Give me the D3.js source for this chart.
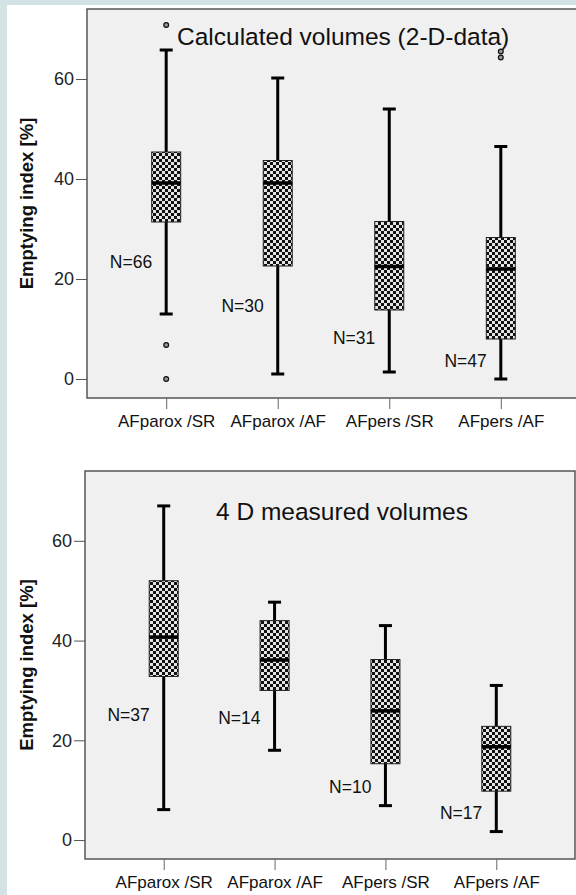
<!DOCTYPE html>
<html>
<head>
<meta charset="utf-8">
<script src="https://cdn.jsdelivr.net/npm/d3@7"></script>
<style>
  html, body { margin: 0; padding: 0; background: #d3e2e4; }
  svg { display: block; font-family: "Liberation Sans", Arial, sans-serif; }
</style>
</head>
<body>
<div id="chart"></div>
<script>
/* data */
var categories = ["AFparox /SR", "AFparox /AF", "AFpers /SR", "AFpers /AF"]
var yTicks = [0, 20, 40, 60]

// top panel: calculated volumes (2-D data)
var calcTitle = "Calculated volumes (2-D-data)"
var calcLow    = [13.0, 1.0, 1.4, 0.0]
var calcQ1     = [31.4, 22.6, 13.8, 8.0]
var calcMedian = [39.2, 39.2, 22.5, 22.0]
var calcQ3     = [45.4, 43.7, 31.5, 28.3]
var calcHigh   = [65.8, 60.2, 54.0, 46.5]
var calcOutliers = [[70.8, 6.8, 0.0], [], [], [65.5, 64.3]]
var calcN      = [66, 30, 31, 47]
var calcNAt    = [23.4, 14.6, 8.2, 3.6]   // value where the N label sits

// bottom panel: 4 D measured volumes
var measTitle = "4 D measured volumes"
var measLow    = [6.1, 18.0, 6.9, 1.7]
var measQ1     = [32.8, 30.0, 15.3, 9.8]
var measMedian = [40.7, 36.1, 25.9, 18.7]
var measQ3     = [52.0, 44.0, 36.2, 22.8]
var measHigh   = [67.0, 47.7, 43.0, 31.0]
var measOutliers = [[], [], [], []]
var measN      = [37, 14, 10, 17]
var measNAt    = [25.0, 24.4, 10.6, 5.4]

var width = 576, height = 895

var svg = d3.select("#chart").append("svg")
  .attr("width", width)
  .attr("height", height)

// checker fill for the boxes
var defs = svg.append("defs")
var pat = defs.append("pattern")
  .attr("id", "checker")
  .attr("patternUnits", "userSpaceOnUse")
  .attr("width", 6).attr("height", 6)
pat.append("rect").attr("width", 6).attr("height", 6).attr("fill", "#e4e4e4")
pat.append("rect").attr("width", 3).attr("height", 3).attr("fill", "#111")
pat.append("rect").attr("x", 3).attr("y", 3).attr("width", 3).attr("height", 3).attr("fill", "#111")

// white page inside the blue-grey frame
svg.append("rect")
  .attr("x", 7).attr("y", 5)
  .attr("width", width - 7).attr("height", height - 5)
  .attr("fill", "#fff")

function drawPanel(opt) {
  var g = svg.append("g")

  var x = d3.scalePoint()
    .domain(categories)
    .range([opt.left, opt.right])
    .padding(0.71)

  var y = d3.scaleLinear()
    .domain([-3.8, 74])
    .range([opt.bottom, opt.top])

  g.append("rect")
    .attr("x", opt.left).attr("y", opt.top)
    .attr("width", opt.right - opt.left).attr("height", opt.bottom - opt.top)
    .attr("fill", "#f0f0f0")
    .attr("stroke", "#555")
    .attr("stroke-width", 1.5)

  // y axis
  var yAxis = g.append("g")
    .attr("transform", `translate(${opt.left},0)`)
    .call(d3.axisLeft(y).tickValues(yTicks).tickSize(11).tickPadding(2))
  yAxis.select(".domain").remove()
  yAxis.selectAll(".tick line").attr("stroke", "#555")
  yAxis.selectAll(".tick text")
    .attr("fill", "#222")
    .style("font-size", "18px")
    .style("font-family", '"Liberation Sans", Arial, sans-serif')

  // x axis
  var xAxis = g.append("g")
    .attr("transform", `translate(0,${opt.bottom})`)
    .call(d3.axisBottom(x).tickSize(11).tickPadding(6))
  xAxis.select(".domain").remove()
  xAxis.selectAll(".tick line").attr("stroke", "#666")
  xAxis.selectAll(".tick text")
    .attr("fill", "#111")
    .style("font-size", "17px")
    .style("font-family", '"Liberation Sans", Arial, sans-serif')

  // axis title
  g.append("text")
    .attr("transform", `translate(${opt.titleX},${(opt.top + opt.bottom) / 2}) rotate(-90)`)
    .attr("text-anchor", "middle")
    .attr("font-size", 18.5)
    .attr("font-weight", "bold")
    .attr("fill", "#111")
    .text("Emptying index [%]")

  // panel heading
  g.append("text")
    .attr("x", opt.headX).attr("y", opt.headY)
    .attr("font-size", 24.5)
    .attr("fill", "#111")
    .text(opt.title)

  var rows = categories.map((c, i) => ({
    cat: c,
    low: opt.low[i], q1: opt.q1[i], med: opt.median[i], q3: opt.q3[i], high: opt.high[i],
    out: opt.outliers[i], n: opt.n[i], nAt: opt.nAt[i]
  }))

  var boxW = 29, capW = 13

  var box = g.selectAll(".box")
    .data(rows)
    .enter().append("g")
    .attr("class", "box")

  // whisker stem
  box.append("line")
    .attr("x1", d => x(d.cat)).attr("x2", d => x(d.cat))
    .attr("y1", d => y(d.high)).attr("y2", d => y(d.low))
    .attr("stroke", "#000").attr("stroke-width", 3)

  // caps
  box.append("line")
    .attr("x1", d => x(d.cat) - capW / 2).attr("x2", d => x(d.cat) + capW / 2)
    .attr("y1", d => y(d.high)).attr("y2", d => y(d.high))
    .attr("stroke", "#000").attr("stroke-width", 3)
  box.append("line")
    .attr("x1", d => x(d.cat) - capW / 2).attr("x2", d => x(d.cat) + capW / 2)
    .attr("y1", d => y(d.low)).attr("y2", d => y(d.low))
    .attr("stroke", "#000").attr("stroke-width", 3)

  // box
  box.append("rect")
    .attr("x", d => x(d.cat) - boxW / 2)
    .attr("y", d => y(d.q3))
    .attr("width", boxW)
    .attr("height", d => y(d.q1) - y(d.q3))
    .attr("fill", "url(#checker)")
    .attr("stroke", "#222")
    .attr("stroke-width", 1)

  // median
  box.append("line")
    .attr("x1", d => x(d.cat) - boxW / 2).attr("x2", d => x(d.cat) + boxW / 2)
    .attr("y1", d => y(d.med)).attr("y2", d => y(d.med))
    .attr("stroke", "#000").attr("stroke-width", 3.5)

  // outliers
  box.selectAll(".out")
    .data(d => d.out.map(v => ({ cat: d.cat, v: v })))
    .enter().append("circle")
    .attr("cx", d => x(d.cat))
    .attr("cy", d => y(d.v))
    .attr("r", 2.4)
    .attr("fill", "#999")
    .attr("stroke", "#111")
    .attr("stroke-width", 1.2)

  // N labels
  box.append("text")
    .attr("x", d => x(d.cat) - 14)
    .attr("y", d => y(d.nAt))
    .attr("dy", "0.35em")
    .attr("text-anchor", "end")
    .attr("font-size", 17.5)
    .attr("fill", "#111")
    .text(d => "N=" + d.n)
}

drawPanel({
  top: 9, bottom: 398, left: 87, right: 580,
  titleX: 33, headX: 177, headY: 45,
  title: calcTitle,
  low: calcLow, q1: calcQ1, median: calcMedian, q3: calcQ3, high: calcHigh,
  outliers: calcOutliers, n: calcN, nAt: calcNAt
})

drawPanel({
  top: 471, bottom: 859, left: 85, right: 575,
  titleX: 33, headX: 216, headY: 520,
  title: measTitle,
  low: measLow, q1: measQ1, median: measMedian, q3: measQ3, high: measHigh,
  outliers: measOutliers, n: measN, nAt: measNAt
})
</script>
</body>
</html>
